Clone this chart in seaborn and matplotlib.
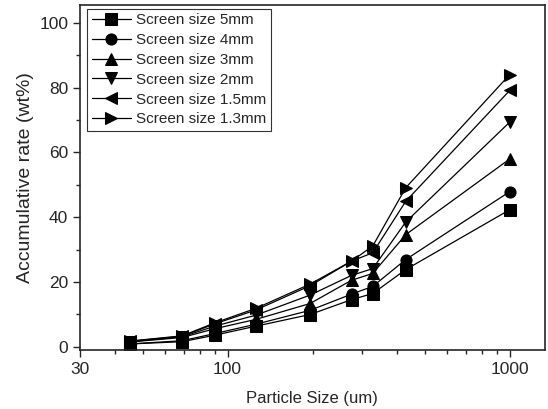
import numpy as np
import pandas as pd
import matplotlib
matplotlib.use("Agg")
import matplotlib.pyplot as plt
import seaborn as sns
from matplotlib.ticker import FixedLocator, NullFormatter, MultipleLocator, LogLocator

sns.set_style("ticks")
plt.rcParams["font.family"] = ["Liberation Sans", "DejaVu Sans"]

# particle size (um)
sizes = [45, 69, 90, 126, 196, 275, 327, 428, 1000]

# accumulative rate (wt%) for each screen size
s5mm = [0.8, 1.5, 3.5, 6.3, 9.9, 14.5, 16.4, 23.8, 42.3]
s4mm = [0.8, 1.8, 4.0, 6.9, 11.2, 16.2, 18.6, 26.9, 47.9]
s3mm = [1.4, 2.8, 5.5, 8.4, 13.3, 20.5, 22.6, 34.6, 58.0]
s2mm = [1.5, 3.0, 6.3, 9.7, 15.9, 22.0, 24.1, 38.5, 69.4]
s15mm = [1.6, 3.2, 7.0, 11.3, 18.8, 26.4, 29.0, 44.9, 79.2]
s13mm = [1.7, 3.3, 7.3, 11.8, 19.3, 26.4, 31.1, 49.1, 84.1]

labels = ["Screen size 5mm", "Screen size 4mm", "Screen size 3mm",
          "Screen size 2mm", "Screen size 1.5mm", "Screen size 1.3mm"]
series = [s5mm, s4mm, s3mm, s2mm, s15mm, s13mm]
markers = ["s", "o", "^", "v", "<", ">"]

fig = plt.figure(figsize=(5.48, 4.09), dpi=100)
ax = fig.add_axes([0.146, 0.144, 0.848, 0.843])

for lab, vals, m in zip(labels, series, markers):
    df = pd.DataFrame({"size": sizes, "rate": vals})
    sns.lineplot(data=df, x="size", y="rate", ax=ax, color="black", lw=0.9,
                 marker=m, markersize=8, markeredgecolor="black",
                 label=lab, sort=False)

ax.set_xscale("log")
ax.set_xlim(30, 1330)
ax.set_ylim(-1.1, 105.5)
ax.xaxis.set_major_locator(FixedLocator([30, 100, 1000]))
ax.set_xticklabels(["30", "100", "1000"])
ax.xaxis.set_minor_locator(LogLocator(base=10, subs=np.arange(2, 10)))
ax.xaxis.set_minor_formatter(NullFormatter())
ax.yaxis.set_major_locator(MultipleLocator(20))
ax.yaxis.set_minor_locator(MultipleLocator(10))

ax.tick_params(axis="both", which="major", direction="out", length=5, width=1,
               labelsize=12.5)
ax.tick_params(axis="both", which="minor", direction="out", length=3, width=1)
for sp in ax.spines.values():
    sp.set_linewidth(1.2)

ax.set_xlabel("Particle Size (um)", fontsize=12, labelpad=10)
ax.set_ylabel("Accumulative rate (wt%)", fontsize=14, labelpad=4)

leg = ax.legend(loc="upper left", bbox_to_anchor=(0.015, 0.99), fontsize=11,
                frameon=True, fancybox=False, edgecolor="black",
                handlelength=2.6, handletextpad=0.3, labelspacing=0.38,
                borderpad=0.3, borderaxespad=0.0)
leg.get_frame().set_linewidth(0.8)

fig.savefig("out.png", dpi=100)
